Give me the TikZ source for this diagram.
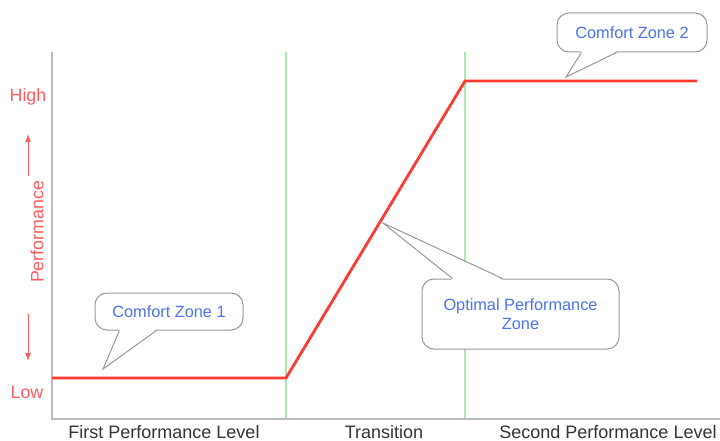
\documentclass[tikz,border=0pt]{standalone}
\usepackage{fontspec}
\setmainfont{Liberation Sans}
\usetikzlibrary{calc,arrows.meta}
\definecolor{perfred}{HTML}{FF3B30}
\definecolor{labelred}{HTML}{FF5C5C}
\definecolor{zonegreen}{HTML}{A8EBA8}
\definecolor{axisgray}{HTML}{BBBBBB}
\definecolor{calloutgray}{HTML}{999999}
\definecolor{calloutblue}{HTML}{4F72EE}
\definecolor{textgray}{HTML}{333333}
\tikzset{
  axisline/.style={draw=axisgray, line width=1.4pt},
  zoneline/.style={draw=zonegreen, line width=1.1pt},
  perfline/.style={draw=perfred, line width=2.8pt, line join=miter},
  redlabel/.style={text=labelred, font=\fontsize{17.8}{20}\selectfont, inner sep=0pt},
  redarrow/.style={draw=labelred, line width=1pt, -{Latex[length=8pt,width=6pt]}},
  bottomlabel/.style={text=textgray, font=\fontsize{18}{20}\selectfont, inner sep=0pt},
  callout/.style={draw=calloutgray, fill=white, line width=1pt, rounded corners=12pt,
    text=calloutblue, font=\fontsize{16.3}{19}\selectfont, align=center, inner sep=0pt},
  pointer/.style={draw=calloutgray, line width=1pt, line join=miter},
}
\begin{document}
\begin{tikzpicture}[x=1pt, y=-1pt]
\useasboundingbox (0,0) rectangle (720,441);

% axes and zone boundaries
\coordinate (origin) at (52,419);
\coordinate (ytop) at (52,52);
\coordinate (xend) at (720,419);
\coordinate (g1top) at (286,52);
\coordinate (g1bot) at (286,419);
\coordinate (g2top) at (465,52);
\coordinate (g2bot) at (465,419);
\draw[zoneline] (g1top) -- (g1bot);
\draw[zoneline] (g2top) -- (g2bot);
\draw[axisline] (ytop) -- (origin) -- (xend);

% performance curve
\coordinate (p0) at (52,378);
\coordinate (p1) at (286,378);
\coordinate (p2) at (465,81);
\coordinate (p3) at (697,81);
\draw[perfline] (p0) -- (p1) -- (p2) -- (p3);

% vertical axis labels
\node[redlabel] (high) at (28,97) {High};
\node[redlabel] (low) at (27,392) {Low};
\node[redlabel, rotate=90] (perf) at (37,232) {Performance};
\coordinate (upfrom) at (28,176);
\coordinate (upto) at (28,134);
\coordinate (downfrom) at (28,314);
\coordinate (downto) at (28,361);
\draw[redarrow] (upfrom) -- (upto);
\draw[redarrow] (downfrom) -- (downto);

% horizontal axis labels
\node[bottomlabel] (first) at (164,432) {First Performance Level};
\node[bottomlabel] (trans) at (384,432) {Transition};
\node[bottomlabel] (second) at (608,432) {Second Performance Level};

% callout: Comfort Zone 1
\node[callout, minimum width=148pt, minimum height=37pt] (cz1) at (169,311.5) {Comfort Zone 1};
\coordinate (cz1tip) at (103,369);
\coordinate (cz1a) at ($(cz1.south west)+(25,0)$);
\coordinate (cz1b) at ($(cz1.south west)+(62,0)$);
\fill[white] ($(cz1a)+(0,-1.5)$) -- (cz1tip) -- ($(cz1b)+(0,-1.5)$) -- cycle;
\draw[pointer] (cz1a) -- (cz1tip) -- (cz1b);

% callout: Comfort Zone 2
\node[callout, minimum width=150pt, minimum height=39pt] (cz2) at (632,32.5) {Comfort Zone 2};
\coordinate (cz2tip) at (566,77);
\coordinate (cz2a) at ($(cz2.south west)+(25,0)$);
\coordinate (cz2b) at ($(cz2.south west)+(60,0)$);
\fill[white] ($(cz2a)+(0,-1.5)$) -- (cz2tip) -- ($(cz2b)+(0,-1.5)$) -- cycle;
\draw[pointer] (cz2a) -- (cz2tip) -- (cz2b);

% callout: Optimal Performance Zone
\node[callout, minimum width=197pt, minimum height=70pt] (opt) at (520.5,314) {Optimal Performance\\Zone};
\coordinate (opttip) at (383,223);
\coordinate (opta) at ($(opt.north west)+(31,0)$);
\coordinate (optb) at ($(opt.north west)+(81,0)$);
\fill[white] ($(opta)+(0,1.5)$) -- (opttip) -- ($(optb)+(0,1.5)$) -- cycle;
\draw[pointer] (opta) -- (opttip) -- (optb);
\end{tikzpicture}
\end{document}
